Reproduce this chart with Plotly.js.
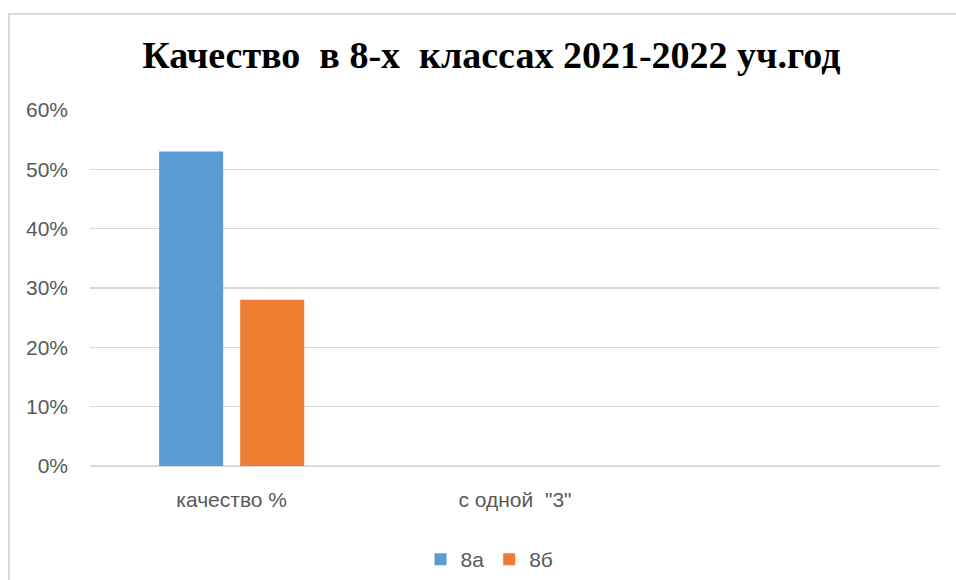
<!DOCTYPE html>
<html>
<head>
<meta charset="utf-8">
<script src="https://cdn.plot.ly/plotly-3.0.1.min.js"></script>
<style>
  html, body { margin: 0; padding: 0; background: #ffffff; }
  #wrap { position: relative; width: 956px; height: 580px; overflow: hidden; }
  #chart { position: absolute; left: 0; top: 0; width: 956px; height: 580px; }
  #frame { position: absolute; left: 8px; top: 13px; width: 1000px; height: 600px;
           border-left: 2px solid #D9D9D9; border-top: 2px solid #D9D9D9; pointer-events: none; }
</style>
</head>
<body>
<div id="wrap">
  <div id="chart"></div>
  <div id="frame"></div>
</div>
<script>
const categories = ["качество %", "с одной  \"3\""];
const seriesNames = ["8а", "8б"];
const values8a = [0.53, 0];
const values8b = [0.28, 0];
const yTickVals = [0, 0.1, 0.2, 0.3, 0.4, 0.5, 0.6];
const yTickText = ["0%", "10%", "20%", "30%", "40%", "50%", "60%"];
const titleText = "Качество  в 8-х  классах 2021-2022 уч.год";

const textFont = { family: "Liberation Sans, Arial, sans-serif", size: 21, color: "#595959" };

const traces = [
  { type: "bar", name: seriesNames[0], x: categories, y: values8a,
    marker: { color: "#5B9BD5" }, hoverinfo: "skip" },
  { type: "bar", name: seriesNames[1], x: categories, y: values8b,
    marker: { color: "#ED7D31" }, hoverinfo: "skip" }
];

const layout = {
  width: 956, height: 580,
  paper_bgcolor: "#ffffff", plot_bgcolor: "#ffffff",
  margin: { l: 90, r: 16, t: 110, b: 114, pad: 0 },
  barmode: "group", bargap: 0.428, bargroupgap: 0.21,
  title: {
    text: "<b>" + titleText + "</b>",
    font: { family: "Liberation Serif, Times New Roman, serif", size: 38, color: "#000000" },
    x: 0.514, xanchor: "center", xref: "container",
    y: 58, yref: "container", yanchor: "middle"
  },
  xaxis: {
    type: "category", range: [-0.5, 2.5],
    showgrid: false, zeroline: false, showline: false,
    ticks: "", ticklabelstandoff: 19,
    tickfont: textFont, fixedrange: true
  },
  yaxis: {
    range: [0, 0.6], tickvals: yTickVals, ticktext: yTickText,
    showgrid: true, gridcolor: "#D9D9D9", gridwidth: 1.5,
    zeroline: true, zerolinecolor: "#D9D9D9", zerolinewidth: 1.5,
    showline: false, ticks: "", ticklabelstandoff: 21,
    tickfont: textFont, fixedrange: true
  },
  showlegend: true,
  legend: {
    orientation: "h", x: 0.47, xanchor: "center", y: 551, yref: "container", yanchor: "middle",
    font: textFont, itemwidth: 30, traceorder: "normal"
  }
};

Plotly.newPlot("chart", traces, layout, { displayModeBar: false, staticPlot: true });
</script>
</body>
</html>
